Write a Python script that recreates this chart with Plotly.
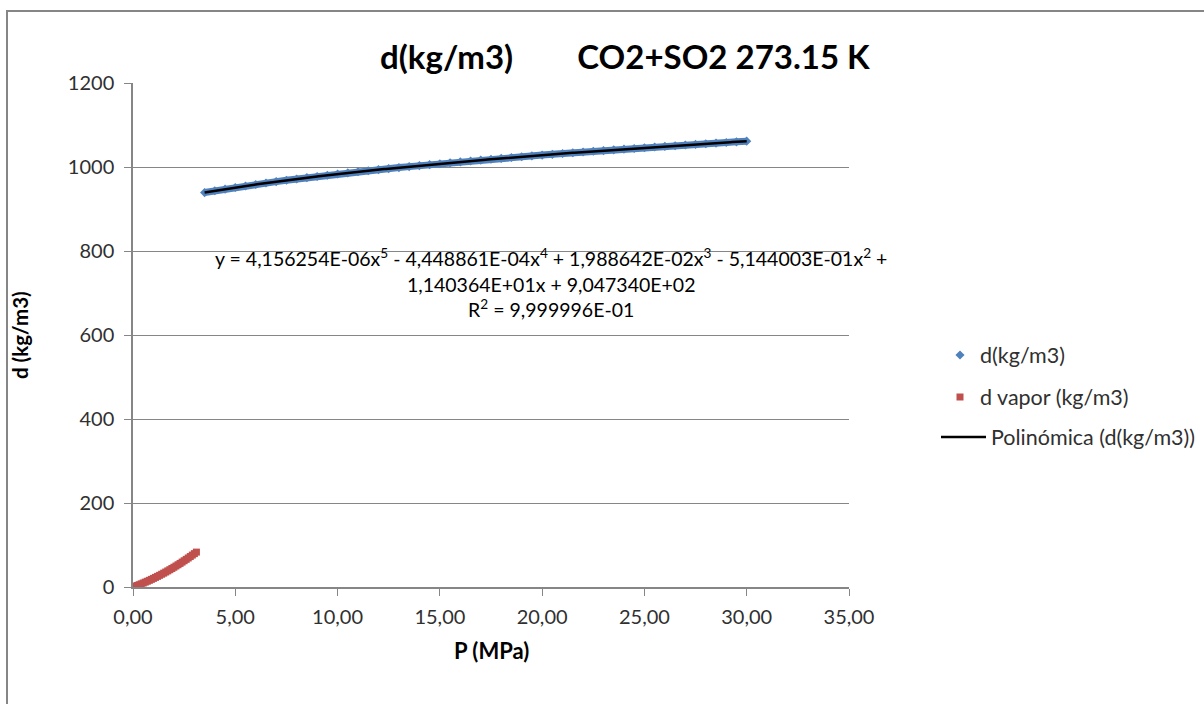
import numpy as np
import plotly.graph_objects as go

# Liquid density d(kg/m3) vs pressure P (MPa)
p_liq = [3.5, 4.0, 4.5, 5.0, 5.5, 6.0, 6.5, 7.0, 7.5, 8.0, 8.5, 9.0, 9.5, 10.0,
         10.5, 11.0, 11.5, 12.0, 12.5, 13.0, 13.5, 14.0, 14.5, 15.0, 15.5, 16.0,
         16.5, 17.0, 17.5, 18.0, 18.5, 19.0, 19.5, 20.0, 20.5, 21.0, 21.5, 22.0,
         22.5, 23.0, 23.5, 24.0, 24.5, 25.0, 25.5, 26.0, 26.5, 27.0, 27.5, 28.0,
         28.5, 29.0, 29.5, 30.0]
d_liq = [939.1, 943.3, 947.3, 951.1, 954.8, 958.4, 961.8, 965.2, 968.4, 971.5,
         974.6, 977.5, 980.4, 983.2, 985.9, 988.6, 991.1, 993.7, 996.2, 998.6,
         1000.9, 1003.3, 1005.6, 1007.8, 1010.0, 1012.2, 1014.3, 1016.4, 1018.4,
         1020.5, 1022.5, 1024.4, 1026.4, 1028.3, 1030.1, 1032.0, 1033.8, 1035.6,
         1037.4, 1039.1, 1040.8, 1042.5, 1044.2, 1045.9, 1047.5, 1049.1, 1050.7,
         1052.3, 1053.8, 1055.4, 1056.9, 1058.4, 1059.9, 1061.5]

# Vapour density
p_vap = [0.0, 0.1, 0.2, 0.3, 0.4, 0.5, 0.6, 0.7, 0.8, 0.9, 1.0, 1.1, 1.2, 1.3,
         1.4, 1.5, 1.6, 1.7, 1.8, 1.9, 2.0, 2.1, 2.2, 2.3, 2.4, 2.5, 2.6, 2.7,
         2.8, 2.9, 3.0, 3.1]
d_vap = [0.0, 1.8, 3.6, 5.5, 7.5, 9.5, 11.6, 13.7, 15.9, 18.2, 20.5, 22.9, 25.3,
         27.8, 30.4, 33.0, 35.7, 38.4, 41.2, 44.1, 47.0, 50.0, 53.0, 56.1, 59.3,
         62.5, 65.8, 69.1, 72.5, 76.0, 79.5, 83.1]

# Polynomial trend coefficients (highest degree first), as printed on the chart
poly_coefs = [4.156254e-06, -4.448861e-04, 1.988642e-02, -5.144003e-01,
              1.140364e+01, 9.047340e+02]
r2_text = "9,999996E-01"

x_ticks = [0, 5, 10, 15, 20, 25, 30, 35]
y_ticks = [0, 200, 400, 600, 800, 1000, 1200]

BLUE = "#4F81BD"
RED = "#C0504D"
GRID = "#868686"
TXT = "#303030"
FONT = "Lato"

p_fit = np.linspace(min(p_liq), max(p_liq), 300)
d_fit = np.polyval(poly_coefs, p_fit)

fig = go.Figure()

fig.add_trace(go.Scatter(
    x=p_vap, y=d_vap, mode="markers", name="d vapor (kg/m3)",
    marker=dict(symbol="square", size=7, color=RED),
    legend="legend2"))

fig.add_trace(go.Scatter(
    x=p_liq, y=d_liq, mode="lines", showlegend=False, hoverinfo="skip",
    line=dict(color=BLUE, width=7)))

fig.add_trace(go.Scatter(
    x=p_liq, y=d_liq, mode="markers", name="d(kg/m3)",
    marker=dict(symbol="diamond", size=7, color=BLUE),
    legend="legend"))

fig.add_trace(go.Scatter(
    x=p_fit, y=d_fit, mode="lines", name="Polinómica (d(kg/m3))",
    line=dict(color="black", width=2.5),
    legend="legend3"))


def fmt_coef(c):
    m, e = f"{abs(c):.6E}".split("E")
    return m.replace(".", ",") + "E" + e


c = poly_coefs
sg = lambda v: "-" if v < 0 else "+"
eq = (f"y = {fmt_coef(c[0])}x<sup>5</sup> {sg(c[1])} {fmt_coef(c[1])}x<sup>4</sup> "
      f"{sg(c[2])} {fmt_coef(c[2])}x<sup>3</sup> {sg(c[3])} {fmt_coef(c[3])}x<sup>2</sup> +"
      f"<br>{fmt_coef(c[4])}x {sg(c[5])} {fmt_coef(c[5])}"
      f"<br>R<sup>2</sup> = {r2_text}")

legend_common = dict(bgcolor="rgba(0,0,0,0)", xanchor="left", yanchor="middle",
                     font=dict(family=FONT, size=21.5, color=TXT))

fig.update_layout(
    width=1204, height=704,
    margin=dict(l=133, r=355, t=83, b=117, autoexpand=False),
    paper_bgcolor="white", plot_bgcolor="white",
    separators=",.",
    font=dict(family=FONT, color=TXT),
    title=dict(text="d(kg/m3)" + "\u00a0" * 8 + "CO2+SO2 273.15 K",
               xref="container", yref="container", x=0.519, y=1 - 57 / 704,
               xanchor="center", yanchor="middle",
               font=dict(family=FONT, size=33, color="black", weight="bold")),
    xaxis=dict(range=[0, 35], tickvals=x_ticks, tickformat=".2f",
               showgrid=False, zeroline=False, showline=True, linecolor=GRID,
               linewidth=1.5, ticks="outside", ticklen=7, tickcolor=GRID,
               ticklabelstandoff=4,
               tickfont=dict(family=FONT, size=20, color=TXT)),
    yaxis=dict(range=[0, 1200], tickvals=y_ticks, tickformat="d",
               showgrid=True, gridcolor=GRID, gridwidth=1.2, zeroline=False,
               showline=True, linecolor=GRID, linewidth=1.5,
               ticks="outside", ticklen=7, tickcolor=GRID,
               ticklabelstandoff=6,
               tickfont=dict(family=FONT, size=20, color=TXT)),
    legend=dict(x=(940 - 133) / 716, y=(587 - 355) / 504, **legend_common),
    legend2=dict(x=(940 - 133) / 716, y=(587 - 397) / 504, **legend_common),
    legend3=dict(x=(936 - 133) / 716, y=(587 - 437) / 504, itemwidth=45,
                 **legend_common),
    annotations=[
        dict(text=eq, xref="paper", yref="paper", x=(551 - 133) / 716,
             y=(587 - 283) / 504, xanchor="center", yanchor="middle",
             showarrow=False, align="center",
             font=dict(family=FONT, size=19.5, color="black")),
        dict(text="<b>P (MPa)</b>", xref="paper", yref="paper", x=0.5,
             y=(587 - 650) / 504, xanchor="center", yanchor="middle",
             showarrow=False, font=dict(family=FONT, size=22, color="black")),
        dict(text="<b>d (kg/m3)</b>", xref="paper", yref="paper",
             x=(20 - 133) / 716, y=0.5, xanchor="center", yanchor="middle",
             textangle=-90, showarrow=False,
             font=dict(family=FONT, size=20.5, color="black")),
    ],
    shapes=[dict(type="rect", xref="paper", yref="paper",
                 x0=(7 - 133) / 716, x1=1.7, y0=-0.5, y1=(587 - 11) / 504,
                 line=dict(color=GRID, width=2), fillcolor="rgba(0,0,0,0)",
                 layer="below")],
)

fig.write_html("out.html")
